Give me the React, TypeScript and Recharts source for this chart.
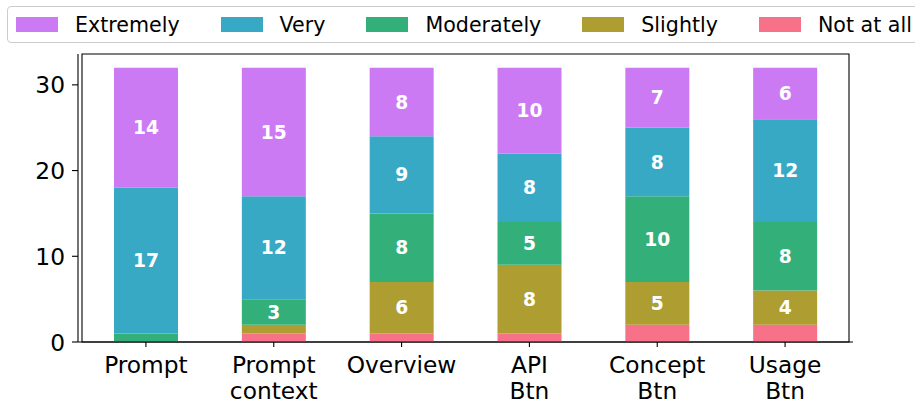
import React from 'react';
import { BarChart, Bar, XAxis, YAxis, Legend, LabelList, ReferenceArea } from 'recharts';

const categories = ['Prompt', 'Prompt\ncontext', 'Overview', 'API\nBtn', 'Concept\nBtn', 'Usage\nBtn'];
const notAtAll = [0, 1, 1, 1, 2, 2];
const slightly = [0, 1, 6, 8, 5, 4];
const moderately = [1, 3, 8, 5, 10, 8];
const very = [17, 12, 9, 8, 8, 12];
const extremely = [14, 15, 8, 10, 7, 6];
const yTicks = [0, 10, 20, 30];
const yMax = 33.6;

const seriesDefs = [
  { key: 'Not at all', values: notAtAll, color: '#f77189' },
  { key: 'Slightly', values: slightly, color: '#ae9d31' },
  { key: 'Moderately', values: moderately, color: '#33b07a' },
  { key: 'Very', values: very, color: '#38a9c5' },
  { key: 'Extremely', values: extremely, color: '#cc7af4' },
];
const legendOrder = ['Extremely', 'Very', 'Moderately', 'Slightly', 'Not at all'];

const data = categories.map((name, i) => {
  const row: any = { name };
  seriesDefs.forEach((s) => { row[s.key] = s.values[i]; });
  return row;
});

const FONT = '"DejaVu Sans", sans-serif';

const XTick = (props: any) => {
  const { x, y, payload } = props;
  const lines = String(payload.value).split('\n');
  return (
    <text x={x} y={y} textAnchor="middle" fontFamily={FONT} fontSize={23.3} fill="#000">
      {lines.map((l, i) => (
        <tspan key={i} x={x} dy={i === 0 ? '0.71em' : 26}>{l}</tspan>
      ))}
    </text>
  );
};

const YTick = (props: any) => {
  const { x, y, payload } = props;
  return (
    <text x={x} y={y} textAnchor="end" dominantBaseline="central" fontFamily={FONT} fontSize={23.3} fill="#000">
      {payload.value}
    </text>
  );
};

const renderLabel = (props: any) => {
  const { x, y, width, height, value } = props;
  if (value < 3) return null;
  return (
    <text
      x={x + width / 2}
      y={y + height / 2}
      textAnchor="middle"
      dominantBaseline="central"
      fontFamily={FONT}
      fontWeight="bold"
      fontSize={18.7}
      fill="#fff"
    >
      {value}
    </text>
  );
};

const LegendContent = () => (
  <div
    style={{
      display: 'flex',
      alignItems: 'center',
      boxSizing: 'border-box',
      height: 37,
      border: '1.3px solid #cccccc',
      borderRadius: 4,
      background: '#fff',
      paddingLeft: 8,
      fontFamily: FONT,
      fontSize: 20.6,
      color: '#000',
      whiteSpace: 'nowrap',
    }}
  >
    {legendOrder.map((k) => {
      const s = seriesDefs.find((d) => d.key === k)!;
      return (
        <div key={k} style={{ display: 'flex', alignItems: 'center', marginRight: 41 }}>
          <div style={{ width: 42, height: 15, background: s.color, marginRight: 17 }} />
          <span>{k}</span>
        </div>
      );
    })}
  </div>
);

export default function App() {
  return (
    <div style={{ position: 'absolute', left: 0, top: 0, width: 915, height: 409, overflow: 'hidden', background: '#fff' }}>
      <BarChart
        width={915}
        height={409}
        data={data}
        margin={{ top: 54, right: 62, left: 0, bottom: 0 }}
        barCategoryGap={0}
      >
        <XAxis
          dataKey="name"
          interval={0}
          height={67}
          padding={{ left: 4, right: 4 }}
          tick={<XTick />}
          tickSize={5}
          tickMargin={9}
          axisLine={{ stroke: '#000', strokeWidth: 1.1 }}
          tickLine={{ stroke: '#000', strokeWidth: 1.1 }}
        />
        <YAxis
          width={78}
          domain={[0, yMax]}
          ticks={yTicks}
          allowDataOverflow
          tick={<YTick />}
          tickSize={6}
          tickMargin={7}
          axisLine={{ stroke: '#000', strokeWidth: 1.1 }}
          tickLine={{ stroke: '#000', strokeWidth: 1.1 }}
        />
        <Legend
          layout="horizontal"
          verticalAlign="middle"
          align="center"
          content={<LegendContent />}
          wrapperStyle={{ position: 'absolute', top: 6, left: 7, width: 930, height: 37 }}
        />
        {seriesDefs.map((s) => (
          <Bar
            key={s.key}
            dataKey={s.key}
            stackId="a"
            fill={s.color}
            barSize={64}
            isAnimationActive={false}
          >
            <LabelList dataKey={s.key} content={renderLabel} />
          </Bar>
        ))}
        <ReferenceArea
          y1={0}
          y2={yMax}
          fill="none"
          fillOpacity={0}
          stroke="#000"
          strokeWidth={1.1}
          ifOverflow="visible"
        />
      </BarChart>
    </div>
  );
}
